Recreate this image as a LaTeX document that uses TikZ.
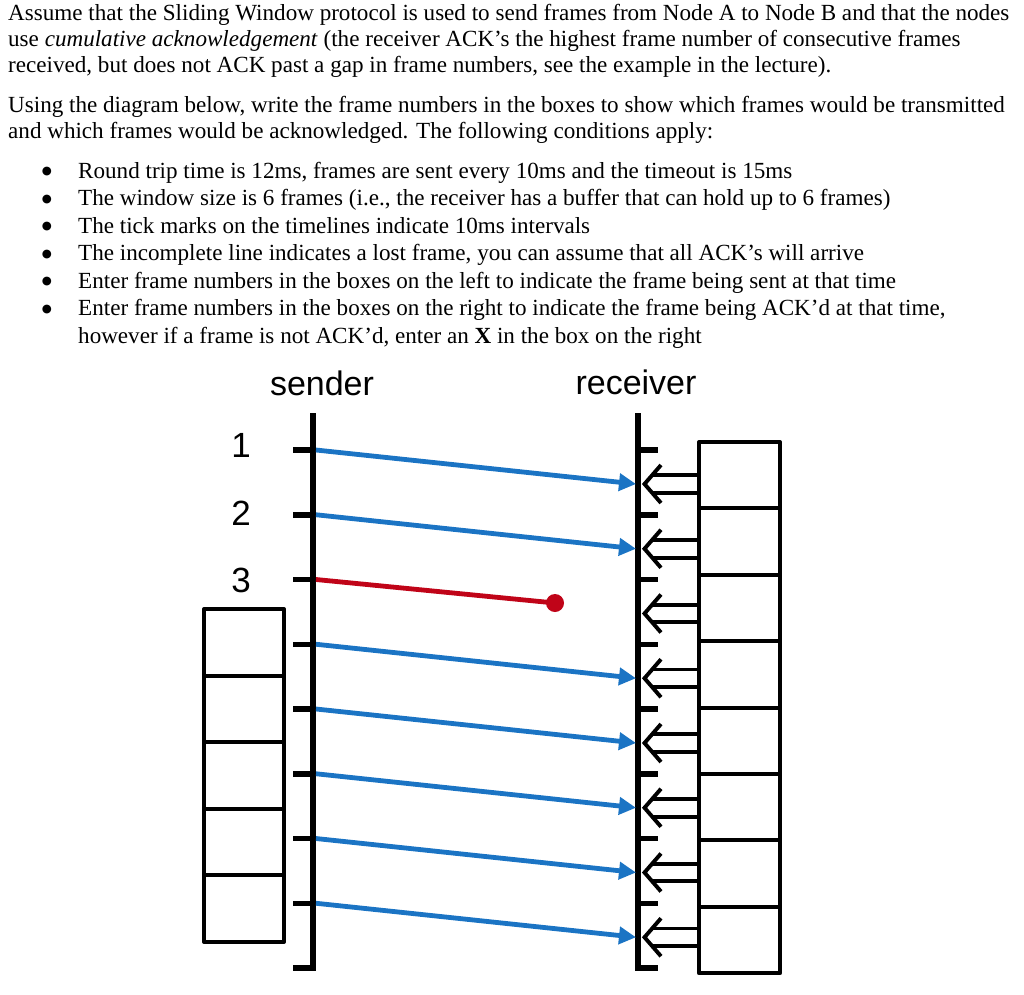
\documentclass[tikz,border=0pt]{standalone}
\usepackage{fontspec}
\setmainfont{Liberation Serif}
\newfontfamily\arialf{Liberation Sans}
\newfontfamily\dejavuf{DejaVu Sans}
\usetikzlibrary{arrows.meta,calc}
\definecolor{fblue}{RGB}{27,116,196}
\definecolor{fred}{RGB}{192,4,24}
\begin{document}
\begin{tikzpicture}[x=1pt,y=-1pt,
  txt/.style={anchor=base west,inner sep=0pt,font=\fontsize{23.1}{27}\selectfont},
  bul/.style={anchor=center,inner sep=0pt,font=\dejavuf\fontsize{11.5}{12}\selectfont},
  lbl/.style={anchor=base,inner sep=0pt,font=\arialf\fontsize{34}{40}\selectfont},
  num/.style={anchor=base,inner sep=0pt,font=\arialf\fontsize{35}{40}\selectfont},
  timeline/.style={line width=5.5pt,line join=miter},
  tickmark/.style={line width=5.5pt},
  frame/.style={fblue,line width=4.8pt,-{Triangle[length=17pt,width=17pt]}},
  lost/.style={fred,line width=4.8pt},
  cell/.style={draw,line width=4pt,line join=round,inner sep=0pt,minimum width=80pt},
  ack/.style={line width=3.9pt,line join=miter}
]
\useasboundingbox (0,0) rectangle (1024,994);
% ---- text ----
\node[txt] (p1) at (8,20.7) {Assume that the Sliding Window protocol is used to send frames from Node A to Node B and that the nodes};
\node[txt] (p2) at (8,46.7) {use \textit{cumulative acknowledgement} (the receiver ACK’s the highest frame number of consecutive frames};
\node[txt] (p3) at (8,72.7) {received, but does not ACK past a gap in frame numbers, see the example in the lecture).};
\node[txt] (p4) at (8,112) {Using the diagram below, write the frame numbers in the boxes to show which frames would be transmitted};
\node[txt] (p5) at (8,138) {and which frames would be acknowledged. The following conditions apply:};
\foreach \yy/\tt [count=\i] in {178/{Round trip time is 12ms, frames are sent every 10ms and the timeout is 15ms},
  205.5/{The window size is 6 frames (i.e., the receiver has a buffer that can hold up to 6 frames)},
  233/{The tick marks on the timelines indicate 10ms intervals},
  260.5/{The incomplete line indicates a lost frame, you can assume that all ACK’s will arrive},
  288/{Enter frame numbers in the boxes on the left to indicate the frame being sent at that time},
  315.5/{Enter frame numbers in the boxes on the right to indicate the frame being ACK’d at that time,}}{
  \node[bul] (b\i) at (47,\yy-6) {●};
  \node[txt] (c\i) at (78,\yy) {\tt};
}
\node[txt] (c7) at (78,343) {however if a frame is not ACK’d, enter an \textbf{X} in the box on the right};
% ---- labels ----
\node[lbl] (sender) at (322,395) {sender};
\node[lbl] (receiver) at (636,394.5) {receiver};
\node[num] (n1) at (241,457.5) {1};
\node[num] (n2) at (241,525) {2};
\node[num] (n3) at (241,592) {3};
% ---- timelines ----
\coordinate (sTop) at (313,413);
\coordinate (sBot) at (313,968);
\coordinate (rTop) at (638,413);
\coordinate (rBot) at (638,968);
\draw[timeline] (sTop) -- (sBot) -- ++(-20,0);
\draw[timeline] (rTop) -- (rBot) -- ++(20,0);
\foreach \k in {0,...,7}{
  \pgfmathsetmacro\ty{450+64.75*\k}
  \coordinate (st\k) at (313,\ty);
  \coordinate (rt\k) at (638,\ty);
  \draw[tickmark] (st\k) -- ++(-20,0);
  \draw[tickmark] (rt\k) -- ++(20,0);
  \coordinate (fs\k) at (316,\ty);
  \coordinate (fe\k) at (636,\ty+34);
  \coordinate (ak\k) at (644.5,\ty+34);
}
% ---- boxes ----
\foreach \i in {1,...,5}{
  \node[cell,minimum height=66.6pt] (L\i) at (244,{609+66.6*(\i-0.5)}) {};
}
\foreach \i in {1,...,8}{
  \node[cell,minimum height=66.4pt,minimum width=81pt] (R\i) at (739.5,{442+66.4*(\i-0.5)}) {};
}
% ---- frames ----
\foreach \k in {0,1,3,4,5,6,7}{
  \draw[frame] (fs\k) -- (fe\k);
}
\coordinate (lostEnd) at (555,603);
\draw[lost] (fs2) -- (lostEnd);
\fill[fred] (lostEnd) circle (9);
% ---- ack arrows ----
\foreach \k [evaluate=\k as \j using int(\k+1)] in {0,...,7}{
  \draw[ack] ($(ak\k)+(16.5,-19)$) -- (ak\k) -- ($(ak\k)+(16.5,19)$);
  \draw[ack] ($(ak\k)+(7.6,-8.8)$) -- (R\j.west |- {$(ak\k)+(0,-8.8)$});
  \draw[ack] ($(ak\k)+(7.6,8.8)$) -- (R\j.west |- {$(ak\k)+(0,8.8)$});
}
\end{tikzpicture}
\end{document}
